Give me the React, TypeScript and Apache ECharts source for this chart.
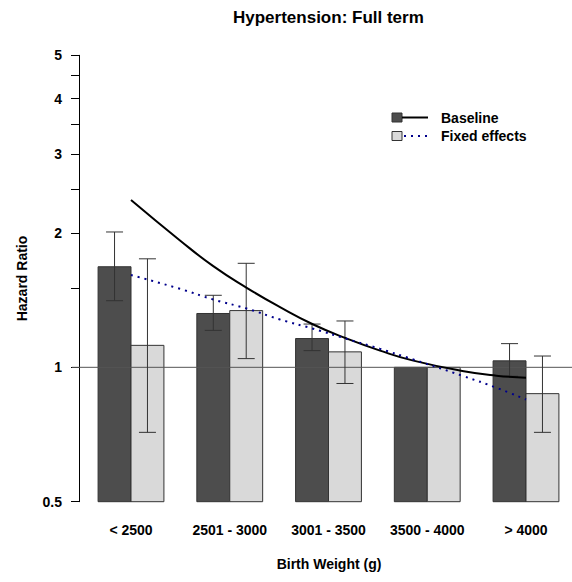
import React, { useEffect, useRef } from "react";
import * as echarts from "echarts";

const categories = ["< 2500", "2501 - 3000", "3001 - 3500", "3500 - 4000", "> 4000"];
const baselineHR = [1.68, 1.32, 1.16, 1.0, 1.034];
const baselineLo = [1.41, 1.21, 1.09, null, 0.955];
const baselineHi = [2.01, 1.45, 1.25, null, 1.13];
const fixedHR = [1.12, 1.34, 1.083, 1.0, 0.873];
const fixedLo = [0.715, 1.046, 0.92, null, 0.715];
const fixedHi = [1.75, 1.71, 1.27, null, 1.06];

const baselineCurveX = [0, 0.496, 0.833, 1.172, 1.509, 1.846, 2.184, 2.522, 2.859, 3.37, 3.7, 4.0];
const baselineCurveY = [2.37, 1.924, 1.685, 1.507, 1.364, 1.247, 1.16, 1.09, 1.035, 0.98, 0.958, 0.948];
const fixedCurveX = [0, 0.496, 0.833, 1.172, 1.509, 1.846, 2.184, 2.522, 2.859, 3.37, 3.7, 4.0];
const fixedCurveY = [1.61, 1.499, 1.419, 1.354, 1.28, 1.22, 1.158, 1.1, 1.041, 0.955, 0.9, 0.847];

const yLabelValues = [0.5, 1, 2, 3, 4, 5];
const yTickValues = [0.5, 1, 1.5, 2, 2.5, 3, 3.5, 4, 4.5, 5];
const refLineValue = 1;

const FONT = "'Liberation Sans', Arial, sans-serif";
const LOG_MIN = Math.log10(0.5);
const LOG_MAX = Math.log10(5);
const X_MIN = -0.5975;
const X_MAX = X_MIN + 500 / 98.75;
const BAR_W = 1 / 3;
const DARK = "#4d4d4d";
const LIGHT = "#d9d9d9";
const NAVY = "#00008b";

export default function App() {
  const ref = useRef<HTMLDivElement>(null);
  useEffect(() => {
    if (!ref.current) return;
    const chart = echarts.init(ref.current, null, { renderer: "svg" });

    const barData = (vals: number[], side: number) =>
      vals.map((v, i) => [i, Math.log10(v), side]);
    const errData = (lo: (number | null)[], hi: (number | null)[], side: number) =>
      lo
        .map((l, i) => (l == null || hi[i] == null ? null : [i, Math.log10(l), Math.log10(hi[i] as number), side]))
        .filter((d) => d !== null);

    const barRender = (fill: string) => (params: any, api: any) => {
      const i = api.value(0);
      const v = api.value(1);
      const side = api.value(2);
      const x0 = side === 0 ? i - BAR_W : i;
      const p0 = api.coord([x0, v]);
      const p1 = api.coord([x0 + BAR_W, LOG_MIN]);
      return {
        type: "rect",
        shape: { x: p0[0], y: p0[1], width: p1[0] - p0[0], height: p1[1] - p0[1] },
        style: { fill, stroke: "#333333", lineWidth: 1 },
      };
    };

    const errRender = (params: any, api: any) => {
      const i = api.value(0);
      const lo = api.value(1);
      const hi = api.value(2);
      const side = api.value(3);
      const xc = side === 0 ? i - BAR_W / 2 : i + BAR_W / 2;
      const pl = api.coord([xc, lo]);
      const ph = api.coord([xc, hi]);
      const hw = 8.5;
      const st = { stroke: "#333333", lineWidth: 1 };
      return {
        type: "group",
        children: [
          { type: "line", shape: { x1: pl[0], y1: pl[1], x2: ph[0], y2: ph[1] }, style: st },
          { type: "line", shape: { x1: pl[0] - hw, y1: pl[1], x2: pl[0] + hw, y2: pl[1] }, style: st },
          { type: "line", shape: { x1: ph[0] - hw, y1: ph[1], x2: ph[0] + hw, y2: ph[1] }, style: st },
        ],
      };
    };

    chart.setOption({
      animation: false,
      backgroundColor: "#ffffff",
      grid: { left: 72, right: 0, top: 55.3, bottom: 80.3, outerBoundsMode: "none" },
      xAxis: {
        type: "value",
        min: X_MIN,
        max: X_MAX,
        axisLine: { show: false, onZero: false },
        axisTick: { show: false },
        splitLine: { show: false },
        axisLabel: {
          customValues: categories.map((_, i) => i),
          formatter: (v: number) => categories[Math.round(v)] ?? "",
          fontFamily: FONT,
          fontWeight: "bold",
          fontSize: 14,
          color: "#000",
          margin: 21,
        },
        name: "Birth Weight (g)",
        nameLocation: "middle",
        nameGap: 55,
        nameTextStyle: { fontFamily: FONT, fontWeight: "bold", fontSize: 14, color: "#000", padding: [0, 0, 0, 14] },
      },
      yAxis: {
        type: "value",
        min: LOG_MIN,
        max: LOG_MAX,
        offset: -7,
        axisLine: { show: true, onZero: false, lineStyle: { color: "#000", width: 1 } },
        axisTick: {
          show: true,
          length: 8,
          customValues: yTickValues.map((v) => Math.log10(v)),
          lineStyle: { color: "#000", width: 1 },
        },
        splitLine: { show: false },
        axisLabel: {
          customValues: yLabelValues.map((v) => Math.log10(v)),
          formatter: (v: number) => {
            const r = Math.pow(10, v);
            return r < 0.99 ? String(Math.round(r * 10) / 10) : String(Math.round(r));
          },
          fontFamily: FONT,
          fontWeight: "bold",
          fontSize: 14,
          color: "#000",
          margin: 17,
        },
        name: "Hazard Ratio",
        nameLocation: "middle",
        nameRotate: 90,
        nameGap: 50,
        nameTextStyle: { fontFamily: FONT, fontWeight: "bold", fontSize: 14, color: "#000" },
      },
      series: [
        { type: "custom", renderItem: barRender(DARK), data: barData(baselineHR, 0), z: 1 },
        { type: "custom", renderItem: barRender(LIGHT), data: barData(fixedHR, 1), z: 1 },
        {
          type: "line",
          data: [[X_MIN, Math.log10(refLineValue)], [X_MAX, Math.log10(refLineValue)]],
          symbol: "none",
          lineStyle: { color: "#555555", width: 1 },
          z: 2,
        },
        { type: "custom", renderItem: errRender, data: errData(baselineLo, baselineHi, 0), z: 3 },
        { type: "custom", renderItem: errRender, data: errData(fixedLo, fixedHi, 1), z: 3 },
        {
          type: "line",
          name: "Baseline",
          data: baselineCurveX.map((x, i) => [x, Math.log10(baselineCurveY[i])]),
          symbol: "none",
          smooth: 0.5,
          lineStyle: { color: "#000", width: 2 },
          z: 4,
        },
        {
          type: "line",
          name: "Fixed effects",
          data: fixedCurveX.map((x, i) => [x, Math.log10(fixedCurveY[i])]),
          symbol: "none",
          smooth: 0.5,
          lineStyle: { color: NAVY, width: 2, type: [2, 5] },
          z: 4,
        },
      ],
      graphic: [
        {
          type: "text",
          left: 329 - 96,
          top: 9,
          style: { text: "Hypertension: Full term", font: `bold 17px ${FONT}`, fill: "#000" },
        },
        { type: "rect", shape: { x: 392, y: 113, width: 10, height: 9 }, style: { fill: DARK, stroke: "#333", lineWidth: 1 } },
        { type: "line", shape: { x1: 402, y1: 117.5, x2: 428, y2: 117.5 }, style: { stroke: "#000", lineWidth: 2 } },
        {
          type: "text",
          x: 441,
          y: 118,
          style: { text: "Baseline", font: `bold 14px ${FONT}`, fill: "#000", verticalAlign: "middle" },
        },
        { type: "rect", shape: { x: 392, y: 131.5, width: 10, height: 9 }, style: { fill: LIGHT, stroke: "#333", lineWidth: 1 } },
        { type: "line", shape: { x1: 404, y1: 136, x2: 428, y2: 136 }, style: { stroke: NAVY, lineWidth: 2, lineDash: [2, 5] } },
        {
          type: "text",
          x: 441,
          y: 136,
          style: { text: "Fixed effects", font: `bold 14px ${FONT}`, fill: "#000", verticalAlign: "middle" },
        },
      ],
    });
    return () => chart.dispose();
  }, []);
  return <div ref={ref} style={{ position: "absolute", left: 0, top: 0, width: 572, height: 582 }} />;
}
